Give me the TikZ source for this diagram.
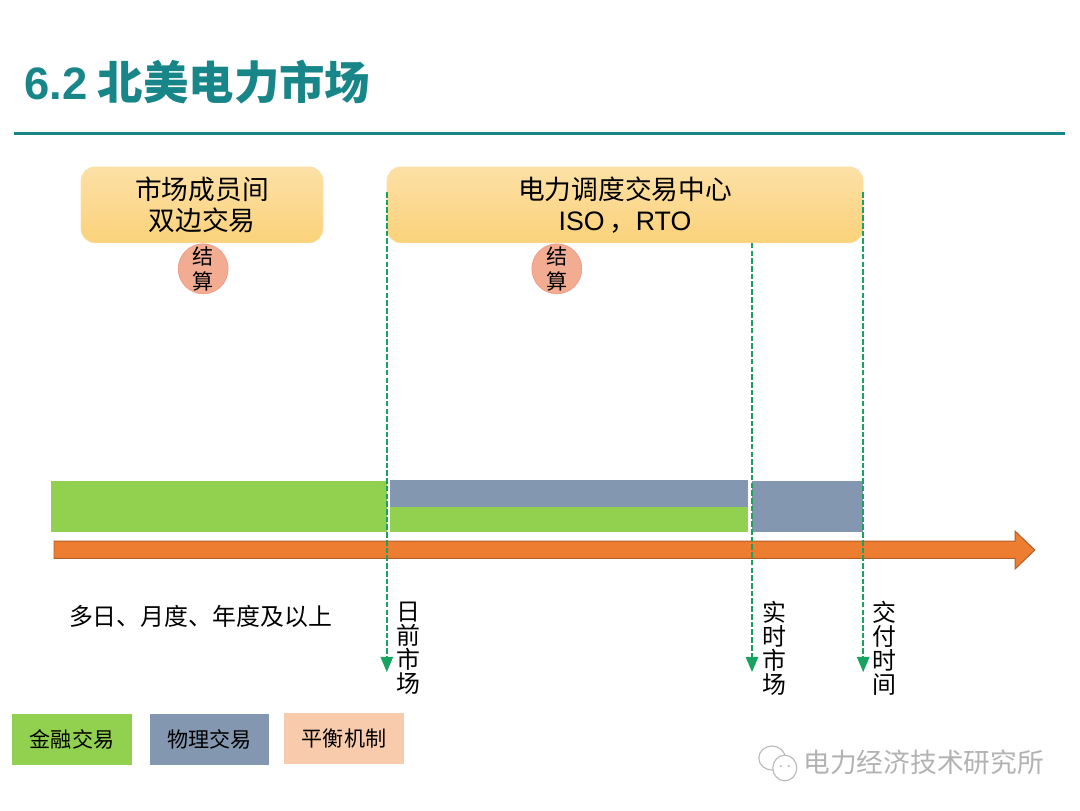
\documentclass[tikz,border=0pt]{standalone}
\usepackage{fontspec}
\setmainfont{Noto Sans CJK SC}
\newfontfamily\latinfont{Liberation Sans}
\usepackage{tikz}
\usetikzlibrary{arrows,positioning,fit,shapes.geometric}
\definecolor{teal1}{RGB}{24,134,136}
\definecolor{green1}{RGB}{146,208,80}
\definecolor{blue1}{RGB}{132,151,176}
\definecolor{peach1}{RGB}{248,203,173}
\definecolor{orange1}{RGB}{237,125,49}
\definecolor{dash1}{RGB}{24,164,96}
\definecolor{boxtop}{RGB}{252,224,166}
\definecolor{boxbottom}{RGB}{251,210,122}
\definecolor{settle1}{RGB}{241,172,146}
\tikzset{
 party/.style={draw=boxtop,rounded corners=0.35cm,top color=boxtop,bottom color=boxbottom,minimum height=1.9cm,align=center,font=\fontsize{19}{22}\selectfont},
 settle/.style={circle,draw=settle1!85!red,fill=settle1,minimum size=1.25cm,inner sep=0pt,align=center,font=\fontsize{15}{18}\selectfont},
 bar/.style={minimum height=#1,inner sep=0pt,anchor=north west},
 legend/.style={minimum width=2.98cm,minimum height=1.28cm,inner sep=0pt,font=\fontsize{15}{18}\selectfont},
 upright/.style={align=center,inner sep=0pt,font=\fontsize{17}{17}\selectfont},
 marker/.style={draw=dash1,dash pattern=on 4pt off 1.5pt,line width=1.5pt,-triangle 45}
}
\begin{document}
\begin{tikzpicture}
\useasboundingbox (0cm,0cm) rectangle (27cm,-20.25cm);
\node[teal1,anchor=west,inner sep=0pt,font=\fontsize{32.3}{36}\selectfont\bfseries] (title) at (0.6cm,-2.05cm) {{\latinfont 6.2} 北美电力市场};
\draw[teal1,line width=2.2pt] (0.35cm,-3.33cm) -- (26.63cm,-3.33cm);
\node[party,minimum width=6.05cm] (member) at (5.05cm,-5.12cm) {市场成员间\\双边交易};
\node[party,minimum width=11.9cm] (iso) at (15.625cm,-5.12cm) {电力调度交易中心\\{\latinfont ISO}\,，{\latinfont RTO}};
\node[settle] (s1) at (5.08cm,-6.72cm) {结\\算};
\node[settle] (s2) at (13.92cm,-6.72cm) {结\\算};
\node[bar=1.28cm,fill=green1,minimum width=8.4cm] (longterm) at (1.27cm,-12.02cm) {};
\node[bar=0.67cm,fill=blue1,minimum width=8.95cm] (dayblue) at (9.75cm,-12cm) {};
\node[bar=0.63cm,fill=green1,minimum width=8.95cm] (daygreen) at (9.75cm,-12.67cm) {};
\node[bar=1.28cm,fill=blue1,minimum width=2.78cm] (realtime) at (18.8cm,-12.02cm) {};
\fill[orange1,draw=orange1!75!black,line width=0.7pt] (1.35cm,-13.53cm) -- (25.38cm,-13.53cm) -- (25.38cm,-13.28cm) -- (25.87cm,-13.75cm) -- (25.38cm,-14.22cm) -- (25.38cm,-13.96cm) -- (1.35cm,-13.96cm) -- cycle;
\coordinate (a1) at (9.67cm,-4.8cm);
\coordinate (b1) at (9.67cm,-16.8cm);
\coordinate (a2) at (18.8cm,-6.07cm);
\coordinate (b2) at (18.8cm,-16.8cm);
\coordinate (a3) at (21.58cm,-4.8cm);
\coordinate (b3) at (21.58cm,-16.8cm);
\draw[marker] (a1) -- (b1);
\draw[marker] (a2) -- (b2);
\draw[marker] (a3) -- (b3);
\node[anchor=west,inner sep=0pt,font=\fontsize{17}{20}\selectfont] (span) at (1.72cm,-15.4cm) {多日、月度、年度及以上};
\node[upright] (m1) at (10.2cm,-16.2cm) {日\\前\\市\\场};
\node[upright] (m2) at (19.35cm,-16.2cm) {实\\时\\市\\场};
\node[upright] (m3) at (22.1cm,-16.2cm) {交\\付\\时\\间};
\node[legend,fill=green1] (l1) at (1.8cm,-18.48cm) {金融交易};
\node[legend,fill=blue1,right=0.45cm of l1] (l2) {物理交易};
\node[legend,fill=peach1] (l3) at (8.6cm,-18.46cm) {平衡机制};
\draw[gray!55,line width=0.8pt,fill=white] (19.3cm,-18.95cm) ellipse (0.33cm and 0.3cm);
\draw[gray!55,line width=0.8pt,fill=white] (19.62cm,-19.2cm) ellipse (0.3cm and 0.32cm);
\fill[gray!55] (19.52cm,-19.15cm) circle (0.03cm) (19.72cm,-19.15cm) circle (0.03cm);
\node[gray!60,anchor=west,inner sep=0pt,font=\fontsize{19}{22}\selectfont] (mark) at (20.08cm,-19.05cm) {电力经济技术研究所};
\end{tikzpicture}
\end{document}
